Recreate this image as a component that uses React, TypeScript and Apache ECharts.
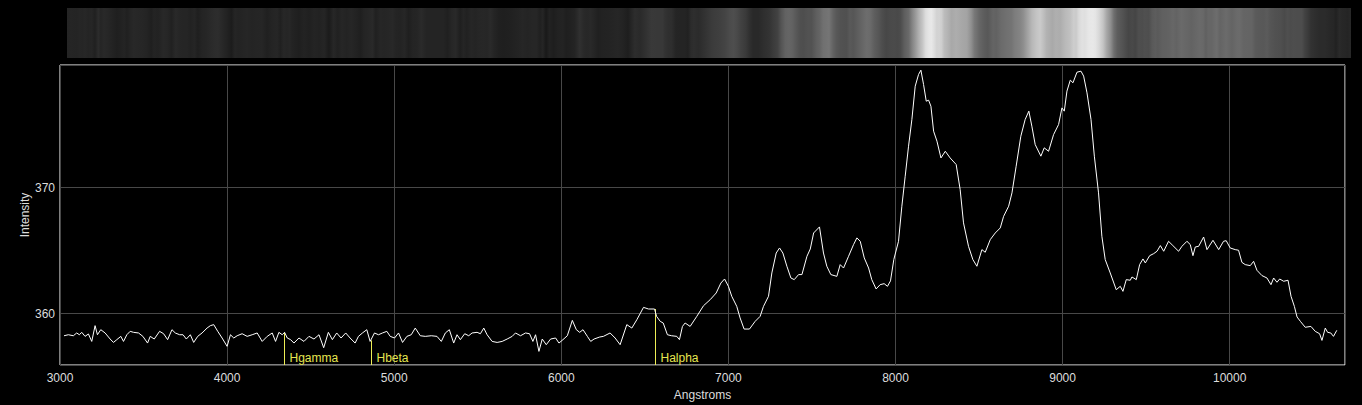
import React, { useEffect, useRef } from "react";
import * as echarts from "echarts";

// Wavelengths (Angstroms) of the traced spectrum points
const wavelengths: number[] = [
  3024, 3050, 3080, 3100, 3116, 3130, 3150, 3170, 3190, 3210, 3224, 3244, 3270, 3300, 3320, 3340, 3364, 3380,
  3400, 3420, 3440, 3470, 3496, 3524, 3540, 3564, 3596, 3620, 3644, 3670, 3690, 3716, 3736, 3756, 3780, 3800,
  3824, 3850, 3880, 3900, 3920, 3944, 3970, 4000, 4020, 4040, 4060, 4090, 4120, 4150, 4180, 4210, 4240, 4270,
  4290, 4310, 4330, 4344, 4360, 4380, 4400, 4430, 4460, 4490, 4520, 4550, 4578, 4606, 4630, 4656, 4682, 4710,
  4736, 4766, 4786, 4810, 4836, 4856, 4882, 4906, 4930, 4956, 4976, 5002, 5026, 5050, 5076, 5102, 5126, 5156,
  5186, 5222, 5256, 5282, 5306, 5330, 5356, 5376, 5396, 5422, 5446, 5466, 5496, 5516, 5536, 5556, 5586, 5616,
  5646, 5676, 5706, 5726, 5756, 5786, 5810, 5830, 5846, 5866, 5886, 5910, 5936, 5966, 5986, 6010, 6036, 6066,
  6090, 6110, 6130, 6156, 6176, 6196, 6230, 6252, 6292, 6322, 6352, 6392, 6422, 6452, 6492, 6522, 6558, 6570,
  6592, 6610, 6635, 6660, 6691, 6707, 6725, 6741, 6771, 6811, 6851, 6891, 6927, 6955, 6977, 7000, 7020, 7050,
  7070, 7094, 7126, 7160, 7190, 7210, 7240, 7260, 7286, 7306, 7326, 7350, 7374, 7394, 7420, 7440, 7470, 7490,
  7510, 7545, 7569, 7589, 7613, 7649, 7669, 7689, 7719, 7749, 7769, 7789, 7813, 7839, 7858, 7884, 7908, 7932,
  7952, 7970, 7990, 8018, 8038, 8058, 8078, 8098, 8118, 8138, 8152, 8168, 8184, 8198, 8212, 8228, 8248, 8272,
  8298, 8327, 8363, 8387, 8407, 8437, 8463, 8487, 8517, 8537, 8567, 8597, 8627, 8647, 8677, 8697, 8722, 8750,
  8776, 8798, 8816, 8836, 8870, 8890, 8916, 8946, 8976, 8996, 9010, 9026, 9046, 9062, 9086, 9110, 9126, 9146,
  9170, 9190, 9215, 9235, 9255, 9285, 9321, 9345, 9361, 9381, 9405, 9415, 9441, 9461, 9481, 9495, 9521, 9545,
  9565, 9585, 9605, 9634, 9660, 9694, 9714, 9744, 9764, 9780, 9794, 9814, 9844, 9864, 9900, 9934, 9963, 9979,
  10003, 10033, 10053, 10073, 10093, 10123, 10143, 10163, 10193, 10223, 10247, 10263, 10283, 10299, 10323, 10349,
  10367, 10387, 10403, 10423, 10452, 10486, 10512, 10538, 10552, 10572, 10586, 10605, 10621, 10641,
];

// Intensity at each wavelength
const intensities: number[] = [
  358.25, 358.33, 358.25, 358.47, 358.33, 358.52, 358.2, 358.39, 357.8, 359.05, 358.33, 358.73, 358.47, 357.99, 357.72, 357.94, 358.2, 357.8,
  358.33, 358.6, 358.52, 358.47, 358.2, 357.67, 358.2, 357.99, 358.6, 358.41, 357.94, 358.73, 358.47, 358.33, 358.33, 357.99, 358.33, 357.72,
  358.2, 358.47, 358.86, 359.05, 359.13, 358.6, 358.07, 357.41, 358.33, 358.07, 358.25, 358.41, 358.2, 358.33, 358.47, 357.8, 358.2, 358.47,
  357.8, 358.52, 358.33, 358.52, 358.07, 357.94, 357.67, 358.07, 357.8, 358.2, 357.99, 358.33, 357.3, 358.52, 357.94, 358.47, 358.07, 358.47,
  358.07, 357.67, 358.2, 358.47, 358.73, 357.8, 358.47, 358.33, 358.47, 358.6, 358.2, 358.07, 358.47, 357.72, 358.2, 358.33, 358.86, 358.25,
  358.2, 358.25, 358.2, 357.8, 358.47, 358.73, 357.67, 358.33, 357.94, 358.41, 358.25, 358.47, 358.52, 358.41, 358.86, 358.33, 357.8, 357.72,
  357.8, 357.99, 358.2, 358.47, 358.25, 358.47, 358.41, 357.8, 358.33, 357.01, 357.99, 357.54, 357.99, 358.07, 357.67, 357.94, 358.25, 359.47,
  358.73, 358.52, 358.73, 358.2, 357.8, 357.99, 358.15, 358.2, 358.47, 358.07, 357.54, 359.13, 358.86, 359.52, 360.5, 360.37, 360.37, 359.79,
  359.39, 359.26, 358.33, 358.25, 358.2, 357.94, 358.99, 359.26, 358.99, 359.79, 360.63, 361.11, 361.64, 362.43, 362.75, 362.17, 361.38, 360.58,
  359.66, 358.78, 358.78, 359.39, 359.79, 360.58, 361.38, 363.23, 364.81, 365.21, 364.81, 363.76, 362.83, 362.7, 363.1, 363.1, 364.55, 365.13,
  366.4, 366.88, 364.81, 363.76, 363.1, 362.96, 363.89, 363.62, 364.55, 365.48, 366.01, 365.74, 364.42, 363.62, 362.7, 361.96, 362.3, 362.38,
  362.17, 362.6, 364.3, 365.74, 368.52, 370.9, 373.28, 375.4, 378.04, 378.97, 379.31, 378.17, 376.85, 376.93, 376.45, 374.47, 373.68, 372.35,
  372.88, 372.35, 371.83, 369.84, 367.2, 365.34, 364.29, 363.76, 365.08, 364.87, 365.87, 366.4, 366.8, 367.72, 368.52, 369.58, 371.69, 374.07,
  375.4, 376.06, 374.87, 373.41, 372.49, 373.15, 372.88, 374.2, 375.0, 376.32, 376.06, 377.65, 378.52, 378.31, 379.15, 379.23, 378.84, 377.51,
  375.4, 372.49, 369.58, 366.14, 364.29, 363.23, 361.9, 362.17, 361.77, 362.7, 362.65, 362.91, 362.7, 363.89, 364.34, 364.02, 364.6, 364.76,
  364.95, 365.4, 364.95, 365.74, 365.4, 364.95, 365.34, 365.74, 365.48, 364.6, 365.29, 365.34, 366.08, 365.08, 365.82, 365.08, 365.74, 365.79,
  365.21, 365.08, 365.03, 364.07, 363.89, 363.81, 364.15, 363.44, 363.02, 362.83, 362.3, 362.83, 362.49, 362.75, 362.57, 362.65,
  361.38, 360.58, 359.74, 359.39, 358.92, 358.99, 358.6, 358.41, 357.88, 358.86, 358.52, 358.47, 358.2, 358.68,
];

// Hydrogen line markers
const markerNames: string[] = ["Hgamma", "Hbeta", "Halpha"];
const markerWavelengths: number[] = [4340, 4861, 6563];
const markerTops: number[] = [358.5, 357.88, 360.37];

// Axis titles, extents and ticks
const xTitle = "Angstroms";
const yTitle = "Intensity";
const xTicksStart = 3000;
const xTickStep = 1000;
const xMax = 10690;
const yMin = 355.93;
const yMax = 379.72;

const FONT = "Liberation Sans, Arial, sans-serif";

export default function App() {
  const ref = useRef<HTMLDivElement>(null);

  useEffect(() => {
    document.body.style.margin = "0";
    document.body.style.background = "#000";
    if (!ref.current) return;
    const chart = echarts.init(ref.current, undefined, { renderer: "svg" });

    const points = wavelengths.map((w, i) => [w, intensities[i]]);
    const w0 = wavelengths[0];
    const wN = wavelengths[wavelengths.length - 1];
    const colorStops = wavelengths.map((w, i) => {
      let g = Math.round(34 + (intensities[i] - 358) * 9.33);
      g = Math.max(22, Math.min(232, g));
      return { offset: (w - w0) / (wN - w0), color: `rgb(${g},${g},${g})` };
    });

    chart.setOption({
      animation: false,
      backgroundColor: "#000",
      grid: {
        left: 60,
        top: 65,
        right: 17,
        bottom: 40,
        show: true,
        borderColor: "#ffffff",
        borderWidth: 1,
        backgroundColor: "transparent",
        outerBoundsMode: "none",
        containLabel: false,
      },
      graphic: [
        {
          type: "rect",
          x: 67,
          y: 8,
          shape: { width: 1284, height: 50 },
          style: {
            fill: new echarts.graphic.LinearGradient(0, 0, 1, 0, colorStops),
          },
          silent: true,
        },
        {
          type: "text",
          x: 25,
          y: 215,
          rotation: Math.PI / 2,
          style: {
            text: yTitle,
            fill: "#dddddd",
            font: `12px ${FONT}`,
            align: "center",
            verticalAlign: "middle",
          },
          silent: true,
        },
      ],
      xAxis: {
        type: "value",
        min: xTicksStart,
        max: xMax,
        interval: xTickStep,
        name: xTitle,
        nameLocation: "middle",
        nameGap: 24,
        nameTextStyle: { color: "#dddddd", fontSize: 12, fontFamily: FONT },
        axisLine: { show: false },
        axisTick: { show: false },
        axisLabel: {
          color: "#dddddd",
          fontSize: 12,
          fontFamily: FONT,
          margin: 7,
          showMaxLabel: false,
          formatter: (v: number) => String(Math.round(v)),
        },
        splitLine: { show: true, lineStyle: { color: "#484848", width: 1 } },
      },
      yAxis: {
        type: "value",
        min: yMin,
        max: yMax,
        splitNumber: 2,
        axisLine: { show: false },
        axisTick: { show: false },
        axisLabel: {
          color: "#dddddd",
          fontSize: 12,
          fontFamily: FONT,
          margin: 5,
          showMinLabel: false,
          showMaxLabel: false,
          formatter: (v: number) => String(Math.round(v)),
        },
        splitLine: { show: true, lineStyle: { color: "#484848", width: 1 } },
      },
      series: [
        {
          type: "custom",
          z: 2,
          data: markerWavelengths.map((w, i) => [w, markerTops[i]]),
          renderItem: (params: any, api: any) => {
            const w = api.value(0);
            const top = api.value(1);
            const p0 = api.coord([w, yMin]);
            const p1 = api.coord([w, top]);
            const x = Math.round(p0[0]) + 0.5;
            return {
              type: "group",
              children: [
                {
                  type: "line",
                  shape: { x1: x, y1: p0[1], x2: x, y2: p1[1] },
                  style: { stroke: "#eded55", lineWidth: 1 },
                },
                {
                  type: "text",
                  x: x + 5,
                  y: p0[1] - 7,
                  style: {
                    text: markerNames[params.dataIndex],
                    fill: "#e6e650",
                    font: `12px ${FONT}`,
                    verticalAlign: "middle",
                    align: "left",
                  },
                },
              ],
            };
          },
        },
        {
          type: "line",
          z: 3,
          data: points,
          showSymbol: false,
          symbol: "none",
          lineStyle: { color: "#ffffff", width: 1 },
          silent: true,
        },
      ],
    });

    return () => {
      chart.dispose();
    };
  }, []);

  return <div ref={ref} style={{ width: 1362, height: 405 }} />;
}
